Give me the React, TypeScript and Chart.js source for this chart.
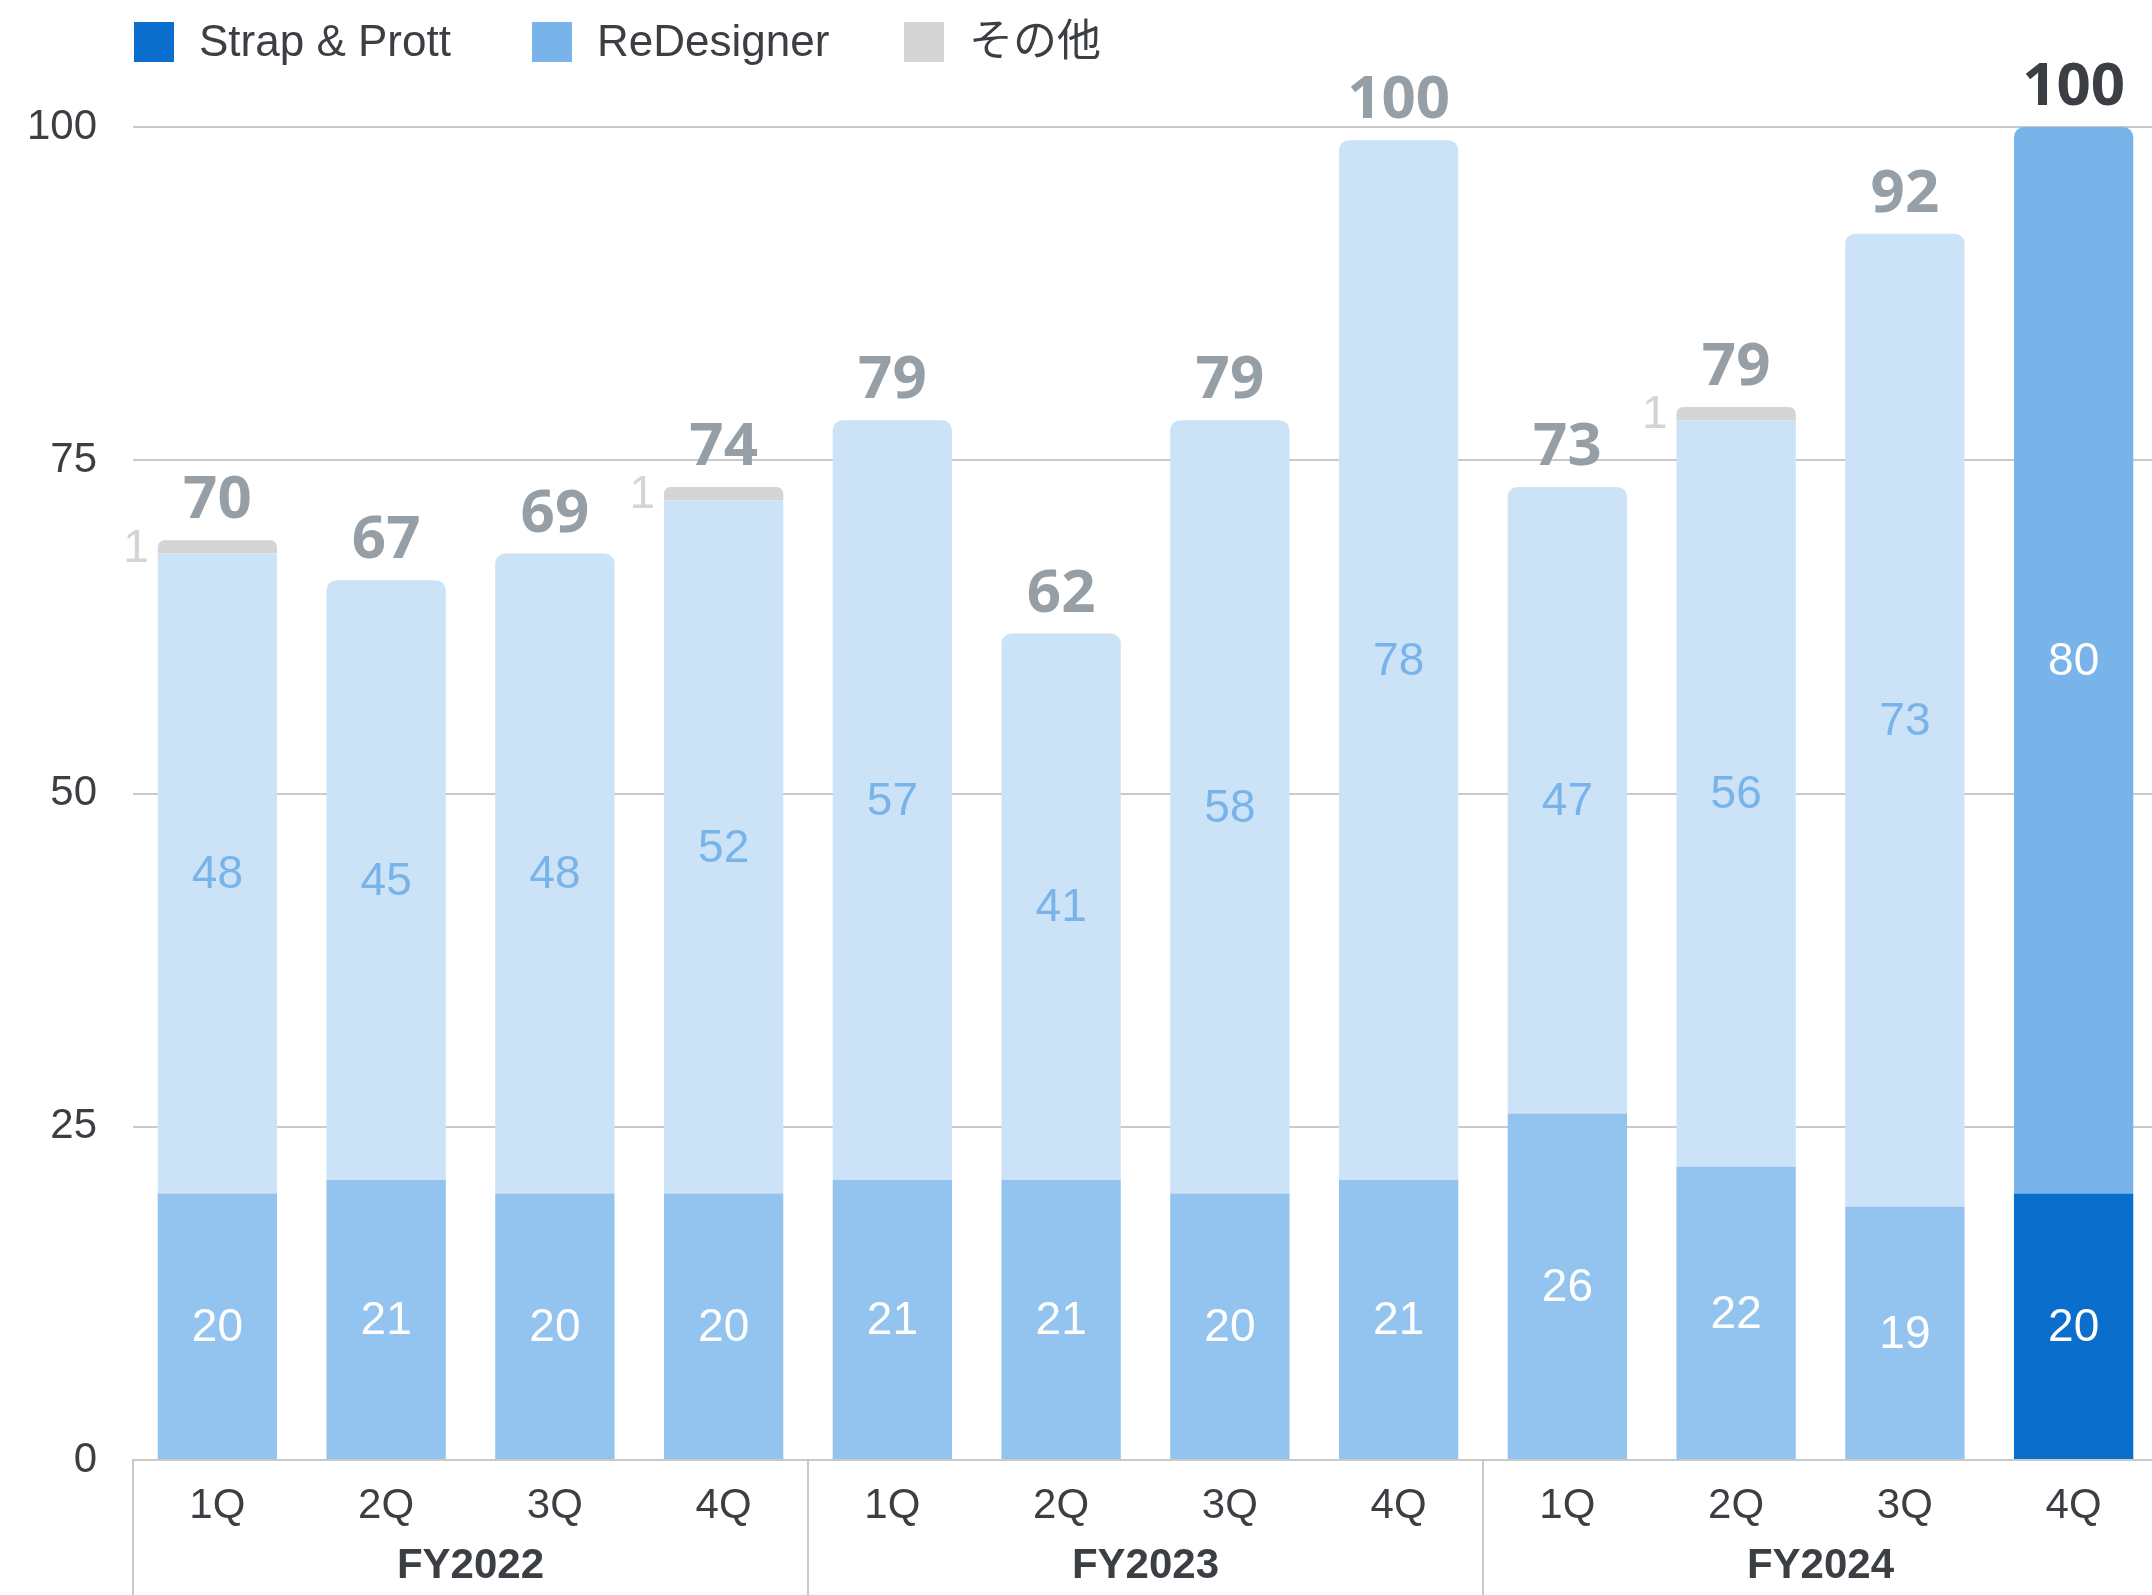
import React, { useEffect, useRef } from 'react';
import { Chart, registerables } from 'chart.js';

Chart.register(...registerables);

// ---- data ----
const quarterLabels = ['1Q', '2Q', '3Q', '4Q', '1Q', '2Q', '3Q', '4Q', '1Q', '2Q', '3Q', '4Q'];
const fiscalYears = ['FY2022', 'FY2023', 'FY2024'];
const strapPrott = [20, 21, 20, 20, 21, 21, 20, 21, 26, 22, 19, 20];
const reDesigner = [48, 45, 48, 52, 57, 41, 58, 78, 47, 56, 73, 80];
const others = [1, 0, 0, 1, 0, 0, 0, 0, 0, 1, 0, 0];
const totals = [70, 67, 69, 74, 79, 62, 79, 100, 73, 79, 92, 100];
const seriesNames = ['Strap & Prott', 'ReDesigner', 'その他'];
const yTicks = [0, 25, 50, 75, 100];

// ---- styles ----
const W = 2158;
const H = 1595;
const HIGHLIGHT = 11;
const C_STRAP = '#0a6fcc';
const C_REDES = '#78b4ea';
const C_OTHER = '#d4d4d4';
const C_STRAP_FADED = '#92c4ef';
const C_REDES_FADED = '#cbe2f7';
const C_TEXT = '#3b3e42';
const C_TOTAL = '#979fa6';
const C_GRID = '#c9c9c9';
const LATIN = '"Liberation Sans", Arial, "Noto Sans CJK JP", sans-serif';
const ROUND = '"Noto Sans", "Open Sans", sans-serif';
const LEGEND_X = [134, 532, 904];

const colorsFor = (hi: string, lo: string) => strapPrott.map((_, i) => (i === HIGHLIGHT ? hi : lo));

const topDataset = (i: number) => (others[i] > 0 ? 2 : 1);

const legendPlugin = {
  id: 'customLegend',
  afterDraw(chart: any) {
    const c = chart.ctx as CanvasRenderingContext2D;
    const colors = [C_STRAP, C_REDES, C_OTHER];
    c.save();
    c.font = `44px ${LATIN}`;
    c.textBaseline = 'middle';
    c.textAlign = 'left';
    const boxTop = 22;
    const box = 40;
    seriesNames.forEach((name, k) => {
      const x = LEGEND_X[k];
      c.fillStyle = colors[k];
      c.fillRect(x, boxTop, box, box);
      c.fillStyle = C_TEXT;
      c.fillText(name, x + box + 25, boxTop + box / 2 + 2);
    });
    c.restore();
  },
};

const labelsPlugin = {
  id: 'valueLabels',
  afterDatasetsDraw(chart: any) {
    const c = chart.ctx as CanvasRenderingContext2D;
    const m0 = chart.getDatasetMeta(0).data;
    const m1 = chart.getDatasetMeta(1).data;
    const m2 = chart.getDatasetMeta(2).data;
    c.save();
    c.textAlign = 'center';
    c.textBaseline = 'middle';
    c.font = `46px ${LATIN}`;
    for (let i = 0; i < strapPrott.length; i++) {
      const e0 = m0[i];
      const e1 = m1[i];
      const e2 = m2[i];
      c.fillStyle = '#ffffff';
      c.fillText(String(strapPrott[i]), e0.x, (e0.y + e0.base) / 2 + 2);
      c.fillStyle = i === HIGHLIGHT ? '#ffffff' : C_REDES;
      c.fillText(String(reDesigner[i]), e1.x, (e1.y + e1.base) / 2 + 2);
      if (others[i] > 0) {
        c.save();
        c.textAlign = 'right';
        c.fillStyle = C_OTHER;
        c.fillText(String(others[i]), e2.x - e2.width / 2 - 9, (e2.y + e2.base) / 2 + 2);
        c.restore();
      }
      const top = Math.min(e0.y, e1.y, e2.y);
      c.save();
      c.font = `bold 60px ${ROUND}`;
      c.textBaseline = 'alphabetic';
      c.fillStyle = i === HIGHLIGHT ? C_TEXT : C_TOTAL;
      c.fillText(String(totals[i]), e0.x, top - 22);
      c.restore();
    }
    c.restore();
  },
};

const groupPlugin = {
  id: 'groupAxis',
  afterDraw(chart: any) {
    const c = chart.ctx as CanvasRenderingContext2D;
    const xs = chart.scales.x;
    const cat = xs.getPixelForValue(1) - xs.getPixelForValue(0);
    c.save();
    c.strokeStyle = C_GRID;
    c.lineWidth = 2;
    fiscalYears.forEach((fy, g) => {
      const left = xs.getPixelForValue(g * 4) - cat / 2;
      c.beginPath();
      c.moveTo(left, xs.top);
      c.lineTo(left, chart.height);
      c.stroke();
      const cx = (xs.getPixelForValue(g * 4 + 1) + xs.getPixelForValue(g * 4 + 2)) / 2;
      c.font = `bold 42px ${LATIN}`;
      c.fillStyle = C_TEXT;
      c.textAlign = 'center';
      c.textBaseline = 'middle';
      c.fillText(fy, cx, xs.top + 106);
    });
    c.restore();
  },
};

export default function App() {
  const ref = useRef<HTMLCanvasElement>(null);

  useEffect(() => {
    document.body.style.margin = '0';
    document.body.style.overflow = 'hidden';
    const canvas = ref.current;
    if (!canvas) return;
    const radius = (ds: number) => (ctx: any) =>
      ctx.dataIndex !== undefined && topDataset(ctx.dataIndex) === ds
        ? { topLeft: 10, topRight: 10, bottomLeft: 0, bottomRight: 0 }
        : 0;
    const chart = new Chart(canvas, {
      type: 'bar',
      data: {
        labels: quarterLabels,
        datasets: [
          {
            label: seriesNames[0],
            data: strapPrott,
            backgroundColor: colorsFor(C_STRAP, C_STRAP_FADED),
            borderRadius: radius(0) as any,
            stack: 's',
          },
          {
            label: seriesNames[1],
            data: reDesigner,
            backgroundColor: colorsFor(C_REDES, C_REDES_FADED),
            borderRadius: radius(1) as any,
            stack: 's',
          },
          {
            label: seriesNames[2],
            data: others,
            backgroundColor: colorsFor(C_OTHER, C_OTHER),
            borderRadius: radius(2) as any,
            stack: 's',
          },
        ],
      },
      options: {
        responsive: false,
        devicePixelRatio: 1,
        animation: false,
        categoryPercentage: 1,
        barPercentage: 0.707,
        layout: { padding: { top: 127, left: 0, right: 0, bottom: 0 } },
        plugins: {
          legend: { display: false },
          tooltip: { enabled: false },
        },
        scales: {
          x: {
            stacked: true,
            grid: { display: false },
            border: { display: true, color: C_GRID, width: 2 },
            ticks: {
              color: C_TEXT,
              font: { family: LATIN, size: 42 },
              padding: 13,
              maxRotation: 0,
              autoSkip: false,
            },
            afterFit: (s: any) => {
              s.height = 135;
            },
          },
          y: {
            stacked: true,
            min: 0,
            max: 100,
            afterBuildTicks: (s: any) => {
              s.ticks = yTicks.map((v) => ({ value: v }));
            },
            grid: { color: C_GRID, lineWidth: 2, drawTicks: false },
            border: { display: false },
            ticks: {
              color: C_TEXT,
              font: { family: LATIN, size: 42 },
              padding: 36,
            },
            afterFit: (s: any) => {
              s.width = 133;
            },
          },
        },
      },
      plugins: [labelsPlugin, groupPlugin, legendPlugin],
    });
    return () => chart.destroy();
  }, []);

  return (
    <div style={{ position: 'fixed', left: 0, top: 0, width: W, height: H }}>
      <canvas ref={ref} width={W} height={H} style={{ display: 'block', width: W, height: H }} />
    </div>
  );
}
